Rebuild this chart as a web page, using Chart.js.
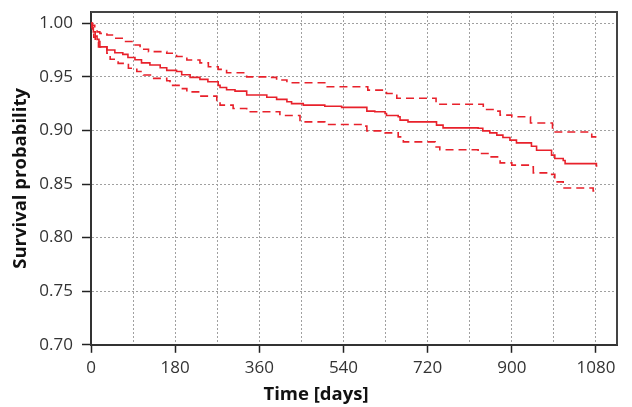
<!DOCTYPE html>
<html>
<head>
<meta charset="utf-8">
<script src="https://cdn.jsdelivr.net/npm/chart.js@4/dist/chart.umd.min.js"></script>
<style>
html,body{margin:0;padding:0;background:#fff;}
#wrap{width:632px;height:407px;}
</style>
</head>
<body>
<div id="wrap"><canvas id="c" width="632" height="407"></canvas></div>
<script>
// Kaplan-Meier estimate (days, survival probability)
const survTime  = [0, 2, 5, 9, 13, 17, 19, 34, 51, 68, 79, 94, 108, 126, 148, 162, 183, 194, 212, 233, 250, 272, 276, 290, 308, 333, 376, 397, 419, 429, 454, 500, 536, 590, 607, 629, 632, 657, 661, 678, 739, 753, 828, 838, 853, 868, 881, 896, 910, 942, 953, 985, 992, 1010, 1014, 1081, 1083];
const survValue = [1.000, 0.996, 0.992, 0.988, 0.985, 0.983, 0.978, 0.975, 0.9725, 0.971, 0.968, 0.966, 0.963, 0.961, 0.9585, 0.956, 0.955, 0.952, 0.9495, 0.9476, 0.9454, 0.942, 0.940, 0.938, 0.9367, 0.933, 0.931, 0.929, 0.9267, 0.925, 0.9236, 0.9226, 0.9215, 0.918, 0.9174, 0.9158, 0.914, 0.9127, 0.9096, 0.908, 0.905, 0.9024, 0.902, 0.8996, 0.8977, 0.8956, 0.8934, 0.891, 0.8884, 0.8853, 0.8815, 0.877, 0.8738, 0.872, 0.869, 0.8669, 0.8669];
// Upper 95% confidence limit
const upperTime  = [0, 3, 8, 13, 19, 34, 48, 69, 90, 105, 123, 162, 183, 205, 233, 251, 272, 290, 333, 376, 397, 419, 500, 592, 629, 632, 654, 738, 839, 868, 875, 900, 940, 987, 1071, 1081];
const upperValue = [1.000, 0.998, 0.995, 0.992, 0.9906, 0.989, 0.986, 0.983, 0.9797, 0.9757, 0.9735, 0.972, 0.969, 0.9657, 0.963, 0.9594, 0.957, 0.9538, 0.950, 0.9495, 0.947, 0.9445, 0.9407, 0.9376, 0.937, 0.9345, 0.930, 0.9245, 0.9196, 0.918, 0.9143, 0.9127, 0.907, 0.8986, 0.894, 0.894];
// Lower 95% confidence limit
const lowerTime  = [0, 3, 6, 9, 16, 34, 41, 58, 80, 98, 112, 130, 162, 169, 190, 205, 233, 269, 276, 304, 333, 404, 447, 500, 586, 590, 629, 657, 668, 736, 746, 828, 853, 875, 900, 942, 946, 977, 992, 1010, 1074, 1081];
const lowerValue = [1.000, 0.993, 0.987, 0.983, 0.978, 0.972, 0.9664, 0.9626, 0.958, 0.955, 0.9517, 0.9486, 0.9463, 0.942, 0.939, 0.936, 0.932, 0.928, 0.9236, 0.9205, 0.9174, 0.914, 0.908, 0.9056, 0.904, 0.8996, 0.8977, 0.894, 0.8893, 0.8846, 0.882, 0.8785, 0.8753, 0.8697, 0.8676, 0.866, 0.8604, 0.859, 0.852, 0.8463, 0.8435, 0.8435];

const xLabeledTicks = [0, 180, 360, 540, 720, 900, 1080];
const yTickLabels = ['0.70', '0.75', '0.80', '0.85', '0.90', '0.95', '1.00'];

const toPts = (t, v) => t.map((x, i) => ({x: x, y: v[i]}));
const RED = '#e8212b';
const FAMILY = '"Open Sans", "Noto Sans", sans-serif';
const TICK_FONT = {family: FAMILY, size: 17};
const TITLE_FONT = {family: FAMILY, size: 18.5, weight: 'bold'};

function noPad(s) { s.paddingTop = 0; s.paddingBottom = 0; s.paddingLeft = 0; s.paddingRight = 0; }

const framePlugin = {
  id: 'frame',
  afterDatasetsDraw(chart) {
    const a = chart.chartArea, ctx = chart.ctx;
    ctx.save();
    ctx.strokeStyle = '#444';
    ctx.lineWidth = 2;
    ctx.beginPath();
    ctx.moveTo(a.left, a.top);
    ctx.lineTo(a.right, a.top);
    ctx.lineTo(a.right, a.bottom);
    ctx.stroke();
    ctx.restore();
  }
};

new Chart(document.getElementById('c'), {
  type: 'line',
  data: {
    datasets: [
      {label: 'Survival', data: toPts(survTime, survValue), borderColor: RED, borderWidth: 1.6, stepped: true, pointRadius: 0, fill: false},
      {label: 'Upper', data: toPts(upperTime, upperValue), borderColor: RED, borderWidth: 1.6, borderDash: [8, 5], stepped: true, pointRadius: 0, fill: false},
      {label: 'Lower', data: toPts(lowerTime, lowerValue), borderColor: RED, borderWidth: 1.6, borderDash: [8, 5], stepped: true, pointRadius: 0, fill: false}
    ]
  },
  options: {
    responsive: false,
    animation: false,
    devicePixelRatio: 1,
    layout: {padding: {top: 12, right: 0, left: 0, bottom: 0}},
    plugins: {
      legend: {display: false},
      tooltip: {enabled: false},
      title: {
        display: true, position: 'bottom', text: 'Time [days]', color: '#111',
        font: TITLE_FONT,
        padding: {top: 2, bottom: 1}
      }
    },
    scales: {
      x: {
        type: 'linear', min: 0, max: 1125,
        afterFit(s) { s.height = 37; noPad(s); },
        ticks: {
          stepSize: 90, includeBounds: false, autoSkip: false, maxRotation: 0, padding: 5,
          color: '#333', font: TICK_FONT,
          callback: (v) => xLabeledTicks.includes(v) ? String(v) : ''
        },
        grid: {
          color: (c) => (c.tick && c.tick.value === 0) ? 'rgba(0,0,0,0)' : '#a0a0a0',
          lineWidth: 1,
          tickColor: (c) => (c.tick && xLabeledTicks.includes(c.tick.value)) ? '#222' : 'rgba(0,0,0,0)',
          tickLength: 8, tickWidth: 1.5
        },
        border: {display: true, color: '#333', width: 2, dash: [2, 2]}
      },
      y: {
        type: 'linear', min: 0.70, max: 1.0105,
        afterFit(s) { s.width = 91; noPad(s); },
        ticks: {
          stepSize: 0.05, includeBounds: false, padding: 9, color: '#333', font: TICK_FONT,
          callback: (v) => {
            const i = Math.round((v - 0.70) / 0.05);
            return yTickLabels[i] !== undefined ? yTickLabels[i] : '';
          }
        },
        grid: {
          color: (c) => (c.tick && Math.abs(c.tick.value - 0.70) < 1e-6) ? 'rgba(0,0,0,0)' : '#a0a0a0',
          lineWidth: 1, tickColor: '#222', tickLength: 9, tickWidth: 1.5
        },
        border: {display: true, color: '#333', width: 2, dash: [2, 2]},
        title: {
          display: true, text: 'Survival probability', color: '#111',
          font: TITLE_FONT,
          padding: {top: 10, bottom: 0}
        }
      },
      yRightSpace: {
        type: 'linear', position: 'right', display: true,
        afterFit(s) { s.width = 15; noPad(s); },
        ticks: {display: false},
        grid: {display: false, drawTicks: false},
        border: {display: false}
      }
    }
  },
  plugins: [framePlugin]
});
</script>
</body>
</html>
